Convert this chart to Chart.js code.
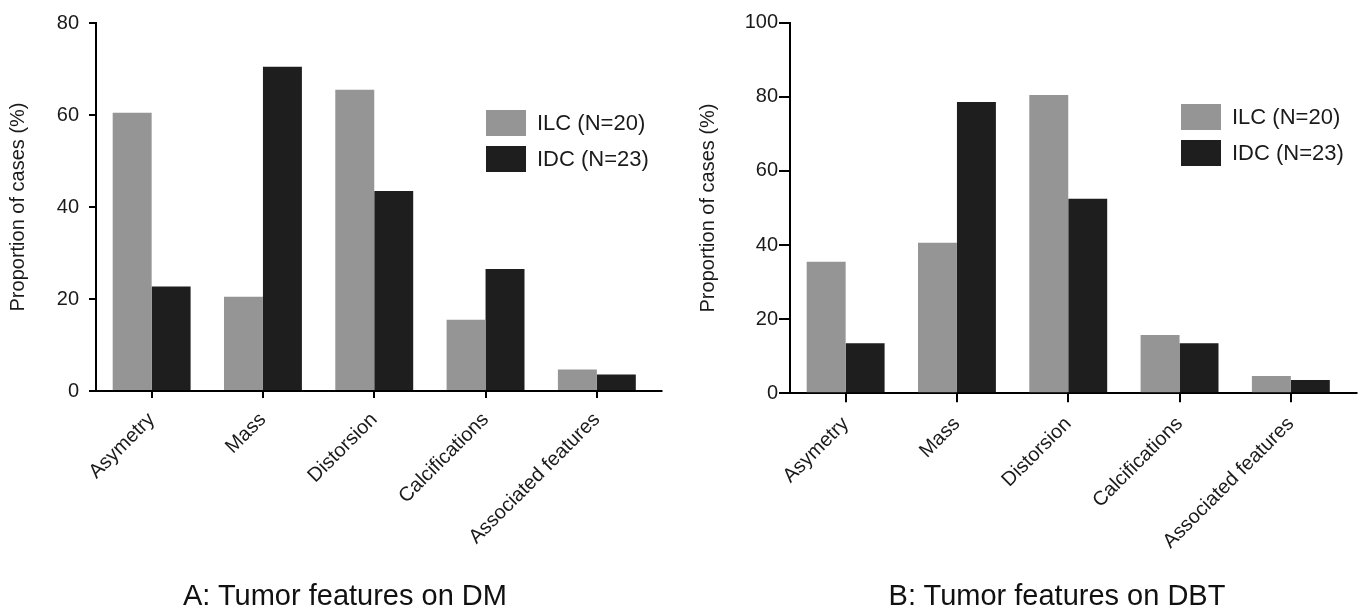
<!DOCTYPE html>
<html>
<head>
<meta charset="utf-8">
<script src="https://cdn.jsdelivr.net/npm/chart.js@4"></script>
<style>
  body { margin: 0; background: #fff; }
  #wrap { position: relative; width: 1360px; height: 608px; overflow: hidden; }
  .pane { position: absolute; top: 0; width: 680px; height: 608px; }
  .caption { position: absolute; top: 581px; font: 29px/29px "Liberation Sans", Arial, sans-serif; color: #111; white-space: nowrap; transform: translateX(-50%); }
</style>
</head>
<body>
<div id="wrap">
  <div class="pane" style="left:0"><canvas id="chartDM" width="680" height="608"></canvas></div>
  <div class="pane" style="left:680px"><canvas id="chartDBT" width="680" height="608"></canvas></div>
  <div class="caption" style="left:345px">A: Tumor features on DM</div>
  <div class="caption" style="left:1057px">B: Tumor features on DBT</div>
</div>
<script>
// categories and values (%)
var features = ['Asymetry', 'Mass', 'Distorsion', 'Calcifications', 'Associated features'];
var seriesNames = ['ILC (N=20)', 'IDC (N=23)'];
var dmILC = [60.5, 20.5, 65.5, 15.5, 4.7];
var dmIDC = [22.7, 70.5, 43.5, 26.5, 3.6];
var dbtILC = [35.5, 40.6, 80.5, 15.7, 4.7];
var dbtIDC = [13.5, 78.6, 52.5, 13.5, 3.6];
var dmTicks = [0, 20, 40, 60, 80];
var dbtTicks = [0, 20, 40, 60, 80, 100];

var FONT = '"Liberation Sans", Arial, sans-serif';
var INK = '#1a1a1a';

// legend drawn inside the plot, top right
var insideLegend = {
    id: 'insideLegend',
    afterDraw: function(chart, args, opts) {
        var ctx = chart.ctx;
        var area = chart.chartArea;
        var x = area.right - opts.right;
        var y = area.top + opts.top;
        ctx.save();
        chart.data.datasets.forEach(function(ds, i) {
            var by = y + i * 36;
            ctx.fillStyle = ds.backgroundColor;
            ctx.fillRect(x, by, 40, 26);
            ctx.fillStyle = INK;
            ctx.font = '22px ' + FONT;
            ctx.textBaseline = 'middle';
            ctx.textAlign = 'left';
            ctx.fillText(ds.label, x + 51, by + 14);
        });
        // the x axis line runs a little past the last category
        var ay = Math.round(area.bottom - 1) + 1;
        ctx.strokeStyle = '#000';
        ctx.lineWidth = 2;
        ctx.beginPath();
        ctx.moveTo(area.right - 1, ay);
        ctx.lineTo(area.right + opts.axisExt, ay);
        ctx.stroke();
        ctx.restore();
    }
};

function makeChart(id, ilc, idc, ticks, s) {
    var ctx = document.getElementById(id).getContext('2d');
    return new Chart(ctx, {
        type: 'bar',
        data: {
            labels: features,
            datasets: [{
                label: seriesNames[0],
                backgroundColor: '#959595',
                data: ilc
            }, {
                label: seriesNames[1],
                backgroundColor: '#1e1e1e',
                data: idc
            }]
        },
        options: {
            responsive: false,
            animation: false,
            layout: { padding: { left: 0, top: s.top, right: s.right, bottom: 0 } },
            datasets: { bar: { categoryPercentage: 0.7, barPercentage: 1.0, borderWidth: 0 } },
            scales: {
                x: {
                    border: { display: true, color: '#000', width: 2 },
                    grid: { display: true, offset: false, drawOnChartArea: false, drawTicks: true,
                            tickLength: s.xTick, color: '#000', lineWidth: 2 },
                    ticks: { autoSkip: false, minRotation: 45, maxRotation: 45, padding: 10,
                             color: INK, font: { family: FONT, size: 20 } },
                    afterFit: function(scale) { scale.height = s.xHeight; }
                },
                y: {
                    min: ticks[0],
                    max: ticks[ticks.length - 1],
                    afterBuildTicks: function(scale) {
                        scale.ticks = ticks.map(function(v) { return { value: v }; });
                    },
                    border: { display: true, color: '#000', width: 2 },
                    grid: { display: true, drawOnChartArea: false, drawTicks: true,
                            tickLength: s.yTick, color: '#000', lineWidth: 2 },
                    ticks: { padding: s.yPad, color: INK, font: { family: FONT, size: 20 } },
                    title: { display: true, text: 'Proportion of cases (%)', color: INK,
                             padding: { top: s.titlePad, bottom: 0 },
                             font: { family: FONT, size: 20 } },
                    afterFit: function(scale) { scale.width = s.yWidth; }
                }
            },
            plugins: {
                legend: { display: false },
                tooltip: { enabled: false },
                insideLegend: { right: s.legRight, top: s.legTop, axisExt: s.axisExt }
            }
        },
        plugins: [insideLegend]
    });
}

makeChart('chartDM', dmILC, dmIDC, dmTicks, {
    top: 23, right: 27.5, xHeight: 217, yWidth: 96,
    xTick: 7, yTick: 7, yPad: 10, titlePad: 6,
    legRight: 166.5, legTop: 87, axisExt: 10
});
makeChart('chartDBT', dbtILC, dbtIDC, dbtTicks, {
    top: 22.7, right: 13.5, xHeight: 214.7, yWidth: 110,
    xTick: 9, yTick: 11, yPad: 1, titlePad: 16,
    legRight: 165.5, legTop: 81.3, axisExt: 11
});
</script>
</body>
</html>
